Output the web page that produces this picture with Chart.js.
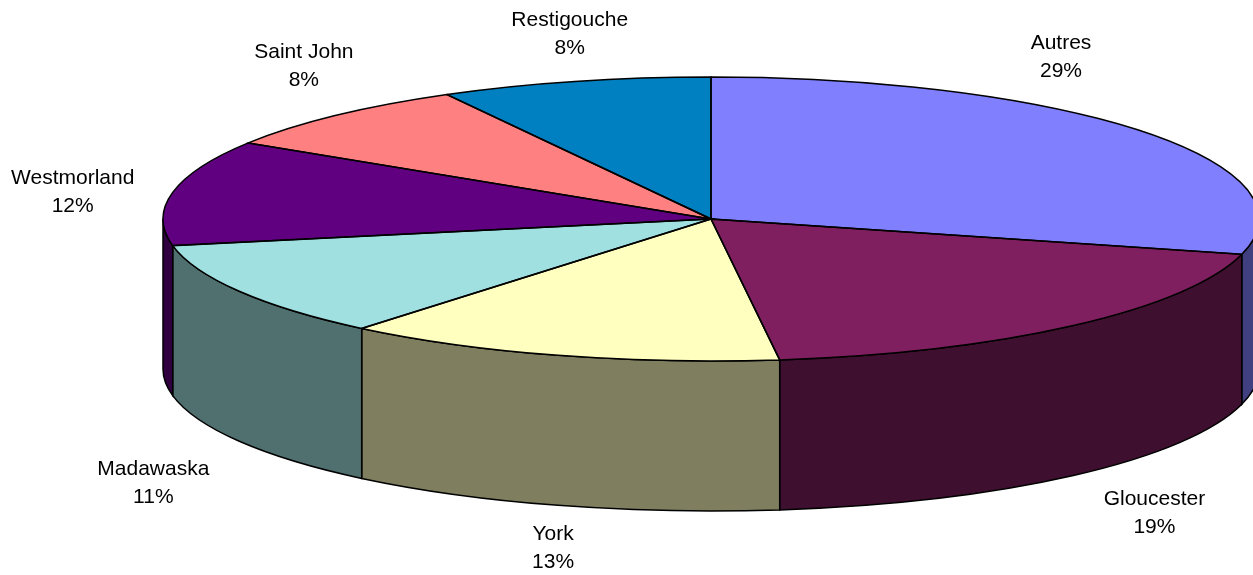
<!DOCTYPE html>
<html>
<head>
<meta charset="utf-8">
<script src="https://cdn.jsdelivr.net/npm/chart.js@4.4.0/dist/chart.umd.min.js"></script>
<style>
    html, body { margin: 0; padding: 0; background: #fff; }
    canvas { display: block; }
</style>
</head>
<body>
<canvas id="countyChart" width="1253" height="575"></canvas>
<script>
// data
const counties = ["Autres", "Gloucester", "York", "Madawaska", "Westmorland", "Saint John", "Restigouche"];
const shares = [29, 19, 13, 11, 12, 8, 8];

// colours: top face and side wall
const topColors = ["#8080FF", "#7F1F5F", "#FFFFC0", "#A0E0E0", "#600080", "#FF8080", "#0080C0"];
const sideColors = ["#404080", "#3F0F2F", "#7F7F60", "#507070", "#300040", "#7F4040", "#004060"];

// label nudge from the rim point at the middle of each slice
const labelNudge = [[-83, -76], [81, 36], [-5, 41], [-86, 40], [-100, -2], [-32, -51], [-5, -49]];

const tilt = 142 / 548;   // ellipse height / width
const depth = 150;        // thickness of the pie

function arcProps(arc) {
    return arc.getProps(["x", "y", "startAngle", "endAngle", "outerRadius"]);
}

// fake 3d: squash the pie and draw the walls under it
const pie3d = {
    id: "pie3d",
    beforeDatasetsDraw(chart) {
        const ctx = chart.ctx;
        const arcs = chart.getDatasetMeta(0).data;

        arcs.forEach((arc, i) => {
            const p = arcProps(arc);
            const a1 = Math.max(p.startAngle, 0);
            const a2 = Math.min(p.endAngle, Math.PI);
            if (a1 >= a2) return;
            const ry = p.outerRadius * tilt;
            ctx.beginPath();
            ctx.ellipse(p.x, p.y, p.outerRadius, ry, 0, a1, a2);
            ctx.ellipse(p.x, p.y + depth, p.outerRadius, ry, 0, a2, a1, true);
            ctx.closePath();
            ctx.fillStyle = sideColors[i];
            ctx.fill();
            ctx.lineWidth = 1.5;
            ctx.strokeStyle = "#000";
            ctx.stroke();
        });

        const cx = arcs[0].x, cy = arcs[0].y;
        ctx.save();
        ctx.translate(cx, cy);
        ctx.scale(1, tilt);
        ctx.translate(-cx, -cy);
    },
    afterDatasetsDraw(chart) {
        const ctx = chart.ctx;
        ctx.restore();
        const arcs = chart.getDatasetMeta(0).data;

        // slice outlines
        arcs.forEach(arc => {
            const p = arcProps(arc);
            ctx.beginPath();
            ctx.moveTo(p.x, p.y);
            ctx.ellipse(p.x, p.y, p.outerRadius, p.outerRadius * tilt, 0, p.startAngle, p.endAngle);
            ctx.closePath();
            ctx.lineWidth = 1.5;
            ctx.strokeStyle = "#000";
            ctx.stroke();
        });

        // labels
        ctx.save();
        ctx.fillStyle = "#000";
        ctx.font = "21px 'Liberation Sans', Arial, sans-serif";
        ctx.textAlign = "center";
        ctx.textBaseline = "alphabetic";
        arcs.forEach((arc, i) => {
            const p = arcProps(arc);
            const mid = (p.startAngle + p.endAngle) / 2;
            let px = p.x + p.outerRadius * Math.cos(mid);
            let py = p.y + p.outerRadius * tilt * Math.sin(mid);
            if (Math.sin(mid) > 0) py += depth;
            const lx = px + labelNudge[i][0];
            const ly = py + labelNudge[i][1];
            ctx.fillText(counties[i], lx, ly - 14 + 7.5);
            ctx.fillText(shares[i] + "%", lx, ly + 14 + 7.5);
        });
        ctx.restore();
    }
};

document.addEventListener("DOMContentLoaded", () => {
    new Chart(document.getElementById("countyChart"), {
        type: "pie",
        data: {
            labels: counties,
            datasets: [{
                data: shares,
                backgroundColor: topColors,
                borderWidth: 0,
                clip: false
            }]
        },
        options: {
            responsive: false,
            animation: false,
            events: [],
            radius: 548,
            layout: { padding: { left: 169, right: 0, top: 0, bottom: 137 } },
            plugins: {
                legend: { display: false },
                tooltip: { enabled: false }
            }
        },
        plugins: [pie3d]
    });
});
</script>
</body>
</html>
